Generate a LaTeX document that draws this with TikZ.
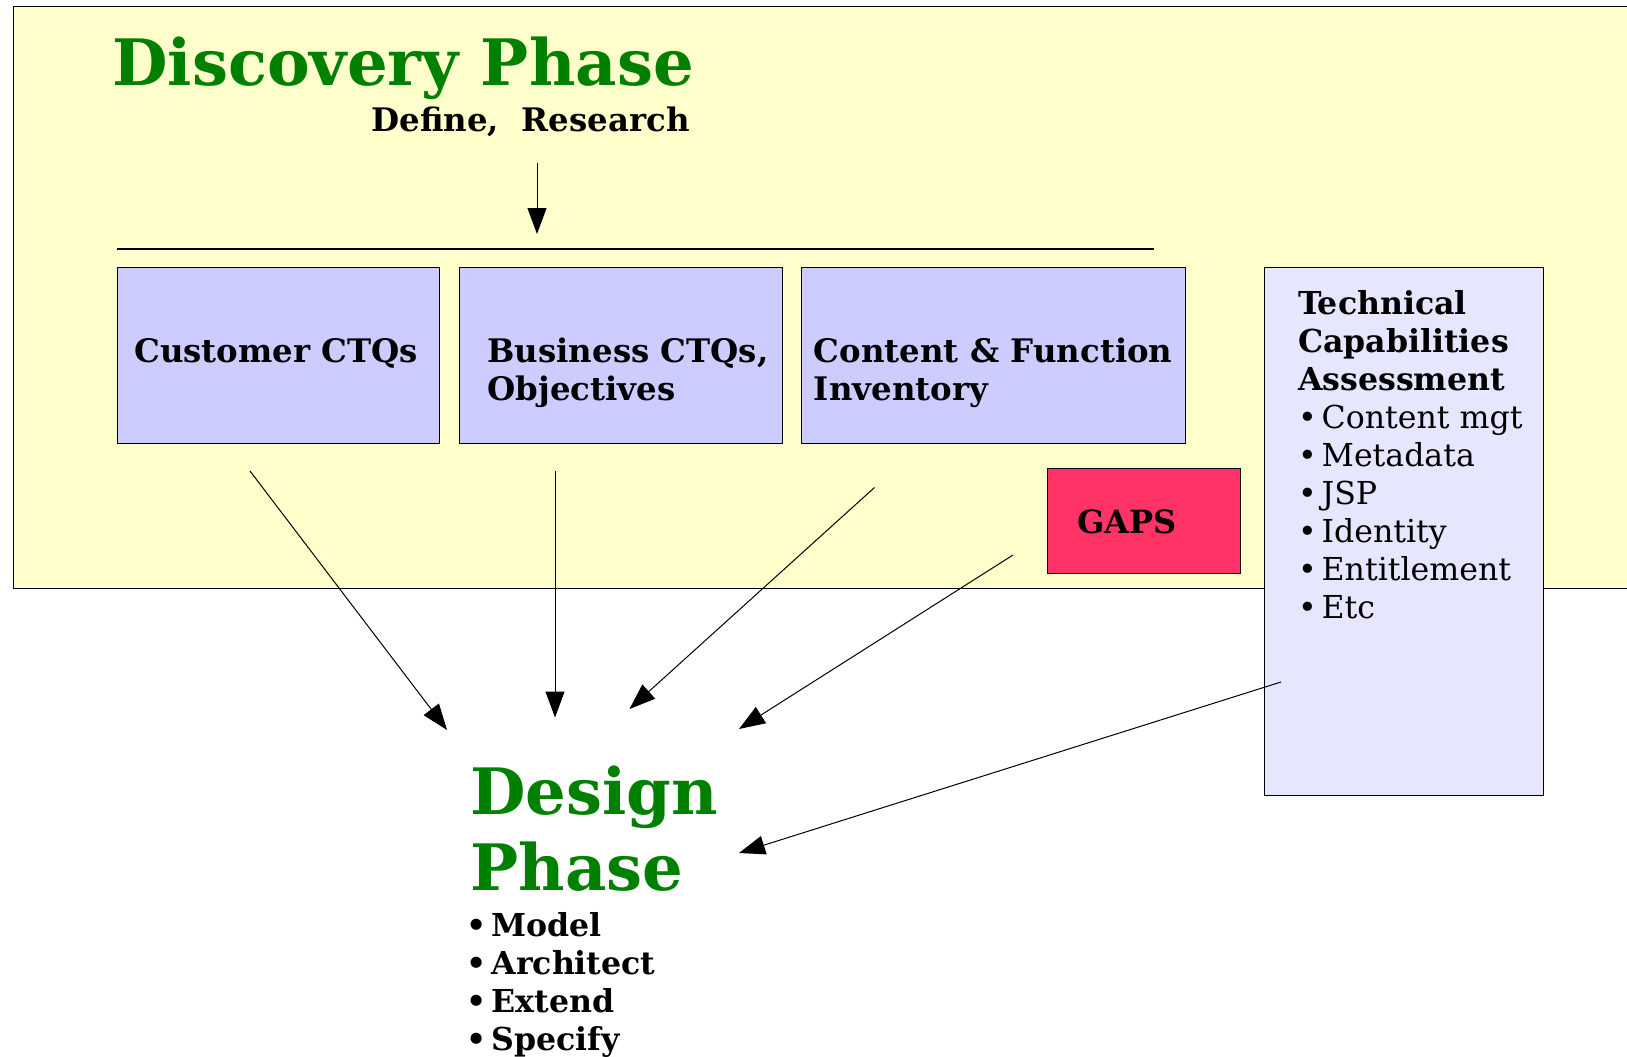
\documentclass[tikz,border=0pt]{standalone}
\usepackage{fontspec}
\setmainfont{DejaVu Serif}
\usetikzlibrary{arrows.meta}
\definecolor{discyellow}{RGB}{255,255,204}
\definecolor{ctqblue}{RGB}{204,204,255}
\definecolor{techblue}{RGB}{230,230,255}
\definecolor{gapred}{RGB}{255,51,102}
\definecolor{phasegreen}{RGB}{0,128,0}
\newcommand{\bul}{•\kern2.5pt}
\tikzset{box/.style={draw,line width=0.6pt,inner sep=0pt,anchor=north west},
  txt/.style={anchor=base west,inner sep=0pt,align=left,font=\bfseries\fontsize{16.2}{19}\selectfont},
  big/.style={anchor=base west,inner sep=0pt,align=left,text=phasegreen,font=\bfseries\fontsize{32}{38}\selectfont},
  arr/.style={-{Triangle[length=13pt,width=9.5pt]},line width=0.5pt}}

\begin{document}
\begin{tikzpicture}[x=0.5pt,y=-0.5pt]
        \useasboundingbox (0,0) rectangle (1627,1056);
        \node [box,fill=discyellow,minimum width=813.75pt,minimum height=291pt] (disc) at (12.5,6) {};
        \node [big] (disct) at (112,85) {Discovery Phase};
        \node [txt,anchor=base east] (defn) at (690,131) {Define,\ \ Research};
        \coordinate (d0) at (537,163);
        \coordinate (d1) at (537,234);
        \coordinate (l0) at (117,249);
        \coordinate (l1) at (1154,249);
        \draw [line width=0.6pt] (l0)--(l1);
        \draw [arr] (d0)--(d1);
        \node [box,fill=ctqblue,minimum width=161pt,minimum height=88pt] (b1) at (117,267) {};
        \node [box,fill=ctqblue,minimum width=161.5pt,minimum height=88pt] (b2) at (459,267) {};
        \node [box,fill=ctqblue,minimum width=192.25pt,minimum height=88pt] (b3) at (800.5,267) {};
        \node [txt] (t1) at (134,362) {Customer CTQs};
        \node [txt] (t2) at (487,400) {Business CTQs,\\Objectives};
        \node [txt] (t3) at (813.5,400) {Content \& Function\\Inventory};
        \node [box,fill=gapred,minimum width=96.5pt,minimum height=52.75pt] (gap) at (1047,467.5) {};
        \node [txt,font=\bfseries\fontsize{16}{19}\selectfont] (gapt) at (1077,533.6) {GAPS};
        \node [box,fill=techblue,minimum width=139.5pt,minimum height=264.25pt] (tech) at (1264,266.5) {};
        \node [txt,font=\fontsize{15.8}{19}\selectfont] (techt) at (1297.6,618.6) {\textbf{Technical}\\\textbf{Capabilities}\\\textbf{Assessment}\\\bul Content mgt\\\bul Metadata\\\bul JSP\\\bul Identity\\\bul Entitlement\\\bul Etc};
        \node [big] (des) at (470,890.7) {Design\\Phase};
        \node [txt,font=\bfseries\fontsize{15.8}{19}\selectfont] (dest) at (466,1050) {\bul Model\\\bul Architect\\\bul Extend\\\bul Specify};
        \coordinate (s1) at (250,471);
        \coordinate (s2) at (555,471);
        \coordinate (s3) at (874.5,487.5);
        \coordinate (s4) at (1013,555);
        \coordinate (s5) at (1281,682);
        \coordinate (e1) at (447,730);
        \coordinate (e2) at (555,717.5);
        \coordinate (e3) at (629.5,709);
        \coordinate (e4) at (739,729);
        \coordinate (e5) at (739,853);
        \draw [arr] (s1)--(e1);
        \draw [arr] (s2)--(e2);
        \draw [arr] (s3)--(e3);
        \draw [arr] (s4)--(e4);
        \draw [arr] (s5)--(e5);
\end{tikzpicture}
\end{document}
